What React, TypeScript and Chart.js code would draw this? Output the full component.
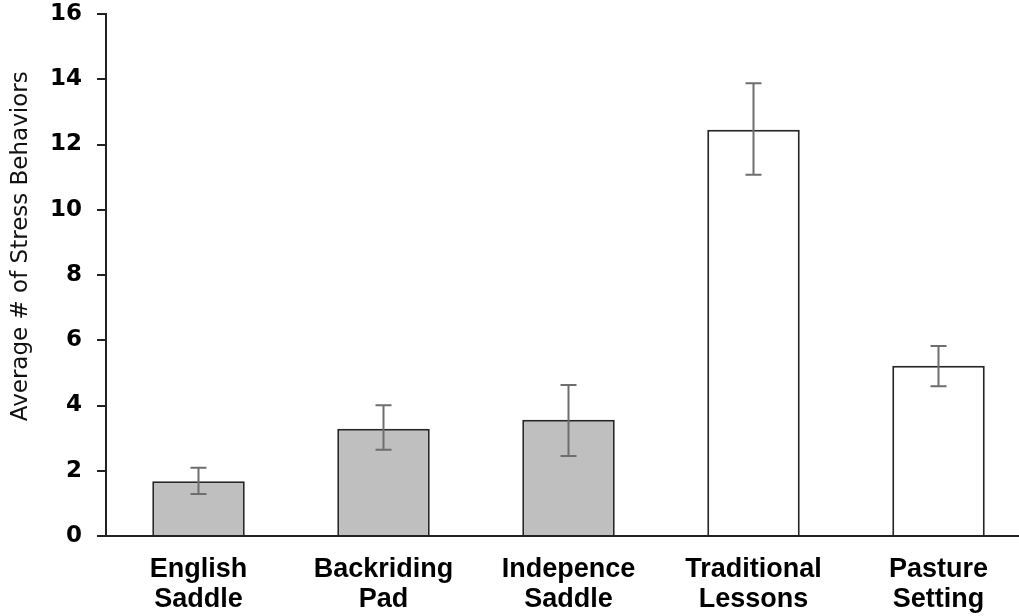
import React, { useEffect, useRef } from "react";
import { Chart, registerables } from "chart.js";

Chart.register(...registerables);

const categories: string[][] = [
  ["English", "Saddle"],
  ["Backriding", "Pad"],
  ["Indepence", "Saddle"],
  ["Traditional", "Lessons"],
  ["Pasture", "Setting"],
];
const means = [1.68, 3.29, 3.56, 12.45, 5.22];
const errLow = [1.29, 2.64, 2.45, 11.07, 4.59];
const errHigh = [2.09, 4.01, 4.63, 13.88, 5.82];
const barFills = ["#bfbfbf", "#bfbfbf", "#bfbfbf", "#ffffff", "#ffffff"];
const yMin = 0;
const yMax = 16;
const yStep = 2;
const yTitle = "Average # of Stress Behaviors";

const errorBarPlugin = {
  id: "errorBars",
  afterDatasetsDraw(chart: any) {
    const meta = chart.getDatasetMeta(0);
    const y = chart.scales.y;
    const ctx = chart.ctx;
    ctx.save();
    ctx.strokeStyle = "#6e6e6e";
    ctx.lineWidth = 2;
    meta.data.forEach((el: any, i: number) => {
      const x = el.x;
      const yl = y.getPixelForValue(errLow[i]);
      const yh = y.getPixelForValue(errHigh[i]);
      const cap = 8;
      ctx.beginPath();
      ctx.moveTo(x, yl);
      ctx.lineTo(x, yh);
      ctx.moveTo(x - cap, yl);
      ctx.lineTo(x + cap, yl);
      ctx.moveTo(x - cap, yh);
      ctx.lineTo(x + cap, yh);
      ctx.stroke();
    });
    ctx.restore();
  },
};

const yTitlePlugin = {
  id: "yTitle",
  afterDraw(chart: any) {
    const { ctx, chartArea } = chart;
    ctx.save();
    ctx.font = '23px "DejaVu Sans"';
    ctx.fillStyle = "#111";
    ctx.textAlign = "center";
    ctx.textBaseline = "alphabetic";
    ctx.translate(27, chartArea.top + (chartArea.bottom - chartArea.top) * 0.445);
    ctx.rotate(-Math.PI / 2);
    ctx.fillText(yTitle, 0, 0);
    ctx.restore();
  },
};

export default function App() {
  const ref = useRef<HTMLCanvasElement | null>(null);
  useEffect(() => {
    if (!ref.current) return;
    const chart = new Chart(ref.current, {
      type: "bar",
      data: {
        labels: categories,
        datasets: [
          {
            data: means,
            backgroundColor: barFills,
            borderColor: "#262626",
            borderWidth: 2,
            categoryPercentage: 1,
            barPercentage: 0.5,
          },
        ],
      },
      options: {
        responsive: false,
        animation: false,
        devicePixelRatio: 1,
        layout: { padding: { top: 14, right: 1, left: 0, bottom: 0 } },
        plugins: {
          legend: { display: false },
          tooltip: { enabled: false },
          title: { display: false },
        },
        scales: {
          x: {
            grid: { display: false },
            border: { display: true, color: "#222", width: 2 },
            ticks: {
              color: "#000",
              padding: 11,
              font: { family: '"Liberation Sans", Arial', size: 27, weight: "bold", lineHeight: 30 / 27 },
              maxRotation: 0,
              autoSkip: false,
            },
            afterFit(scale: any) {
              scale.height = 80;
              scale.paddingLeft = 0;
              scale.paddingRight = 0;
            },
          },
          y: {
            min: yMin,
            max: yMax,
            grid: {
              drawOnChartArea: false,
              drawTicks: true,
              tickLength: 9,
              color: "#222",
              lineWidth: 2,
            },
            border: { display: true, color: "#222", width: 2 },
            ticks: {
              stepSize: yStep,
              color: "#000",
              padding: 15,
              font: { family: '"DejaVu Sans"', size: 23, weight: "bold" },
            },
            afterFit(scale: any) {
              scale.width = 106;
              scale.paddingTop = 0;
              scale.paddingBottom = 0;
            },
          },
        },
      },
      plugins: [errorBarPlugin, yTitlePlugin],
    });
    return () => chart.destroy();
  }, []);
  return (
    <div
      style={{
        position: "fixed",
        left: 0,
        top: 0,
        width: 1019,
        height: 616,
        overflow: "hidden",
        background: "#fff",
      }}
    >
      <canvas ref={ref} width={1032} height={616} style={{ width: 1032, height: 616, display: "block" }} />
    </div>
  );
}
